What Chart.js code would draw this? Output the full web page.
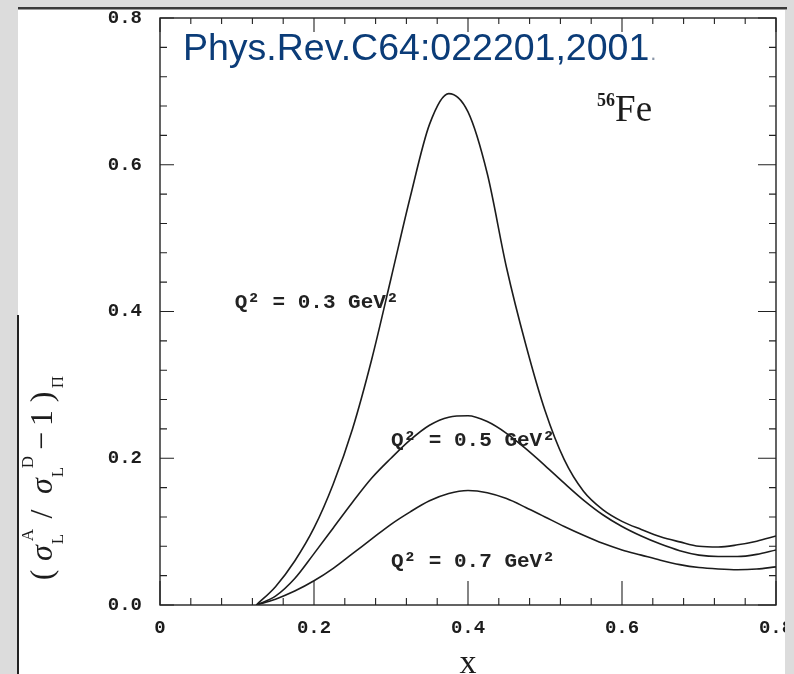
<!DOCTYPE html>
<html>
<head>
<meta charset="utf-8">
<title>56Fe longitudinal ratio</title>
<script src="https://cdn.jsdelivr.net/npm/chart.js"></script>
<style>
  html, body { margin: 0; padding: 0; background: #dcdcdc; }
</style>
</head>
<body>
<canvas id="plot" width="794" height="674"></canvas>
<script>
// Bjorken x grid shared by the three curves
const xs = [0.125, 0.15, 0.175, 0.2, 0.225, 0.25, 0.275, 0.3, 0.325, 0.35, 0.375, 0.4, 0.425, 0.45,
            0.475, 0.5, 0.525, 0.55, 0.575, 0.6, 0.625, 0.65, 0.675, 0.7, 0.725, 0.75, 0.775, 0.8];
// (sigma_L^A / sigma_L^D - 1) from pion excess, per Q^2
const q03 = [0, 0.025, 0.06, 0.105, 0.165, 0.24, 0.335, 0.445, 0.556, 0.655, 0.697, 0.672, 0.588, 0.46,
             0.355, 0.265, 0.198, 0.155, 0.13, 0.114, 0.103, 0.093, 0.086, 0.08, 0.079, 0.082, 0.087, 0.094];
const q05 = [0, 0.012, 0.036, 0.07, 0.105, 0.14, 0.173, 0.2, 0.225, 0.245, 0.256, 0.258, 0.25, 0.234,
             0.213, 0.19, 0.166, 0.143, 0.123, 0.107, 0.094, 0.083, 0.074, 0.068, 0.066, 0.066, 0.069, 0.075];
const q07 = [0, 0.008, 0.019, 0.033, 0.05, 0.07, 0.09, 0.11, 0.127, 0.142, 0.152, 0.156, 0.153, 0.145,
             0.133, 0.12, 0.107, 0.095, 0.084, 0.075, 0.068, 0.061, 0.055, 0.051, 0.049, 0.048, 0.049, 0.052];
const curveLabels = ['Q² = 0.3 GeV²', 'Q² = 0.5 GeV²', 'Q² = 0.7 GeV²'];

const xTickValues = [0, 0.2, 0.4, 0.6, 0.8];
const xTickLabels = ['0', '0.2', '0.4', '0.6', '0.8'];
const yTickValues = [0, 0.2, 0.4, 0.6, 0.8];
const yTickLabels = ['0.0', '0.2', '0.4', '0.6', '0.8'];

// where each curve label starts (data coords)
const labelAt = [[0.097, 0.405], [0.3, 0.217], [0.3, 0.052]];

const ink = '#1c1c1c';
const mono = '"Liberation Mono", "DejaVu Sans Mono", monospace';
const serif = '"Liberation Serif", "DejaVu Serif", serif';

function toPoints(ys) {
  return xs.map((x, i) => ({ x: x, y: ys[i] }));
}

// frame, inward ticks, page edges and all the annotation text
const decor = {
  id: 'decor',
  beforeDraw(chart) {
    const c = chart.ctx;
    c.save();
    c.fillStyle = '#dcdcdc';
    c.fillRect(0, 0, chart.width, chart.height);
    c.fillStyle = '#fff';
    c.fillRect(18, 9, 767, chart.height - 9);
    c.restore();
  },
  afterDraw(chart) {
    const c = chart.ctx;
    const a = chart.chartArea;
    const sx = chart.scales.x, sy = chart.scales.y;
    c.save();

    // box
    c.strokeStyle = '#222';
    c.lineWidth = 1.4;
    c.strokeRect(a.left, a.top, a.right - a.left, a.bottom - a.top);

    // ticks every 0.04, longer on the labelled values
    c.lineWidth = 1.1;
    c.beginPath();
    for (let k = 0; k <= 20; k++) {
      const v = k * 0.04;
      const major = k % 5 === 0;
      const px = sx.getPixelForValue(v);
      const py = sy.getPixelForValue(v);
      c.moveTo(px, a.bottom); c.lineTo(px, a.bottom - (major ? 24 : 7));
      c.moveTo(px, a.top); c.lineTo(px, a.top + (major ? 14 : 6));
      c.moveTo(a.left, py); c.lineTo(a.left + (major ? 14 : 7), py);
      c.moveTo(a.right, py); c.lineTo(a.right - (major ? 18 : 7), py);
    }
    c.stroke();

    // curve labels
    c.fillStyle = '#222';
    c.font = 'bold 21px ' + mono;
    c.textBaseline = 'alphabetic';
    c.textAlign = 'left';
    curveLabels.forEach((t, i) => {
      c.fillText(t, sx.getPixelForValue(labelAt[i][0]), sy.getPixelForValue(labelAt[i][1]));
    });

    // nucleus
    c.fillStyle = ink;
    const fx = sx.getPixelForValue(0.591), fy = sy.getPixelForValue(0.66);
    c.font = '37px ' + serif;
    c.fillText('Fe', fx, fy);
    c.font = 'bold 18px ' + serif;
    c.textAlign = 'right';
    c.fillText('56', fx, fy - 15);

    // x axis title
    c.textAlign = 'center';
    c.font = '34px ' + serif;
    c.fillText('x', sx.getPixelForValue(0.4), 673);

    // y axis title, rotated, drawn piece by piece for sub/superscripts
    const big = '32px ' + serif, bigIt = 'italic 32px ' + serif, small = '17px ' + serif;
    const put = (t, font, bx, cy) => {
      c.save();
      c.translate(bx, cy);
      c.rotate(-Math.PI / 2);
      c.font = font;
      c.textAlign = 'center';
      c.fillText(t, 0, 0);
      c.restore();
    };
    put('(', big, 52, 575);
    put('σ', bigIt, 52, 553);
    put('L', small, 63, 539);
    put('A', small, 33, 535);
    put('/', big, 52, 514);
    put('σ', bigIt, 52, 486);
    put('L', small, 63, 472);
    put('D', small, 33, 462);
    put('−', big, 52, 441);
    put('1', big, 52, 418);
    put(')', big, 52, 397);
    put('Π', small, 63, 382);

    // citation
    c.textAlign = 'left';
    c.font = '37.5px "Liberation Sans", Arial, sans-serif';
    c.fillStyle = '#0b3c78';
    c.fillText('Phys.Rev.C64:022201,2001', 183, 60);
    const w = c.measureText('Phys.Rev.C64:022201,2001').width;
    c.fillStyle = '#8a96a8';
    c.font = '22px "Liberation Sans", Arial, sans-serif';
    c.fillText('.', 183 + w + 1, 60);

    // page edges
    c.fillStyle = '#dcdcdc';
    c.fillRect(0, 0, chart.width, 7);
    c.fillRect(785, 0, chart.width - 785, chart.height);
    c.fillRect(0, 0, 18, chart.height);
    c.fillStyle = '#3a3a3a';
    c.fillRect(18, 7, 769, 2);
    c.fillStyle = '#9a9a9a';
    c.fillRect(18, 9, 769, 1);
    c.fillStyle = '#222';
    c.fillRect(17, 315, 2, chart.height - 315);
    c.restore();
  }
};

const ctx = document.getElementById('plot').getContext('2d');
const chart = new Chart(ctx, {
  type: 'line',
  data: {
    datasets: [q03, q05, q07].map((ys, i) => ({
      label: curveLabels[i],
      data: toPoints(ys),
      borderColor: ink,
      borderWidth: 1.6,
      pointRadius: 0,
      fill: false,
      cubicInterpolationMode: 'monotone'
    }))
  },
  options: {
    responsive: false,
    animation: false,
    layout: { padding: { top: 18, right: 18, left: 0, bottom: 0 } },
    plugins: { legend: { display: false }, tooltip: { enabled: false } },
    scales: {
      x: {
        type: 'linear',
        min: 0,
        max: 0.8,
        grid: { display: false, drawTicks: false },
        border: { display: false },
        afterBuildTicks: s => { s.ticks = xTickValues.map(v => ({ value: v })); },
        afterFit: s => { s.height = 69; s.paddingLeft = 0; s.paddingRight = 0; },
        ticks: {
          padding: 12,
          maxRotation: 0,
          color: ink,
          font: { family: mono, size: 19, weight: 'bold' },
          callback: (v, i) => xTickLabels[i]
        }
      },
      y: {
        type: 'linear',
        min: 0,
        max: 0.8,
        grid: { display: false, drawTicks: false },
        border: { display: false },
        afterBuildTicks: s => { s.ticks = yTickValues.map(v => ({ value: v })); },
        afterFit: s => { s.width = 160; s.paddingTop = 0; s.paddingBottom = 0; },
        ticks: {
          padding: 18,
          color: ink,
          font: { family: mono, size: 19, weight: 'bold' },
          callback: (v, i) => yTickLabels[i]
        }
      }
    }
  },
  plugins: [decor]
});
</script>
</body>
</html>
